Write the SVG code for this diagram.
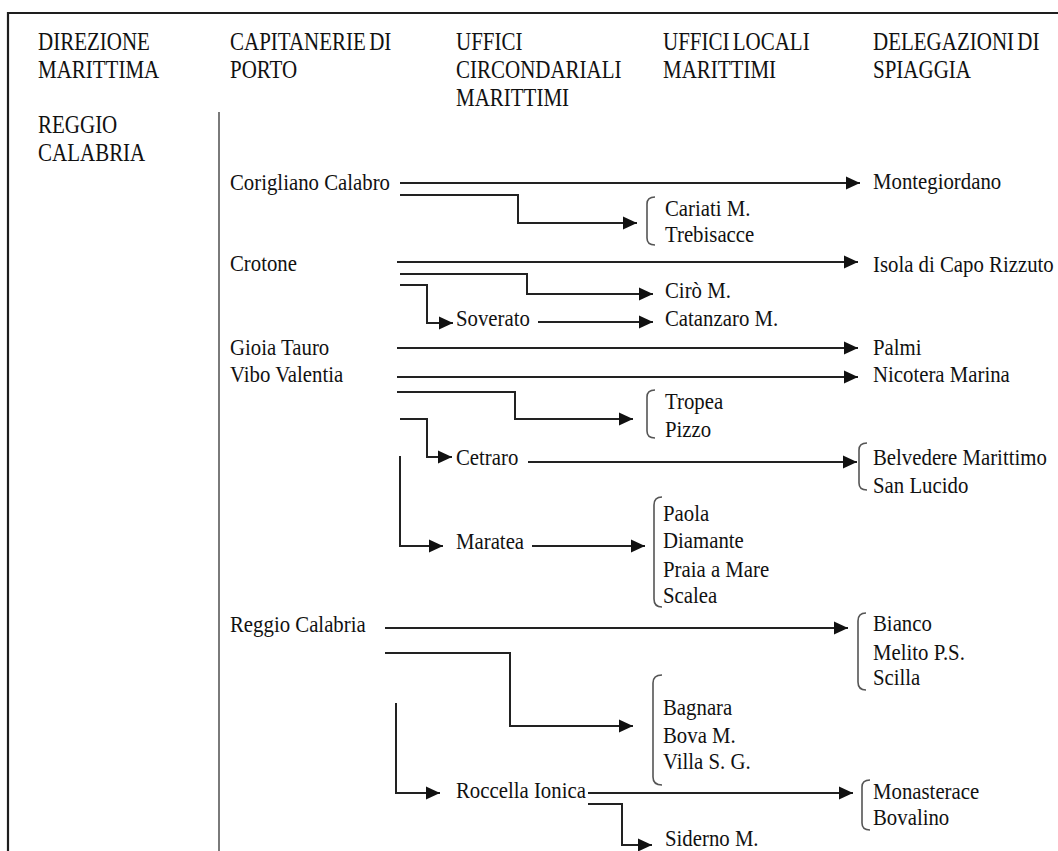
<svg xmlns="http://www.w3.org/2000/svg" width="1058" height="851" viewBox="0 0 1058 851">
<style>
  text { font-family: "Liberation Serif", "Times New Roman", serif; font-size: 20.8px; fill: #111; }
  .h { font-size: 21px; word-spacing: -2px; }
  .c { fill: none; stroke: #222; stroke-width: 2; }
  .br { fill: none; stroke: #555; stroke-width: 1.6; }
  .frame { fill: none; stroke: #1e1e1e; stroke-width: 2.2; }
  .axis { stroke: #7a7a7a; stroke-width: 2; }
</style>
<defs>
  <marker id="ah" markerUnits="userSpaceOnUse" markerWidth="15" markerHeight="15" refX="14" refY="7" orient="auto">
    <path d="M0,0.5 L14,7 L0,13.5 Z" fill="#111"/>
  </marker>
</defs>
<rect width="1058" height="851" fill="#fff"/>
<path class="frame" d="M8,851 V13 H1058"/>
<line class="axis" x1="219" y1="112" x2="219" y2="851"/>

<g id="headers">
  <g id="h-direzione"><text class="h" transform="translate(38 50) scale(1 1.18)">DIREZIONE</text><text class="h" transform="translate(38 78) scale(1 1.18)">MARITTIMA</text></g>
  <g id="h-capitanerie"><text class="h" transform="translate(230 50) scale(1 1.18)">CAPITANERIE DI</text><text class="h" transform="translate(230 78) scale(1 1.18)">PORTO</text></g>
  <g id="h-circondariali"><text class="h" transform="translate(456 50) scale(1 1.18)">UFFICI</text><text class="h" transform="translate(456 78) scale(1 1.18)">CIRCONDARIALI</text><text class="h" transform="translate(456 106) scale(1 1.18)">MARITTIMI</text></g>
  <g id="h-locali"><text class="h" transform="translate(663 50) scale(1 1.18)">UFFICI LOCALI</text><text class="h" transform="translate(663 78) scale(1 1.18)">MARITTIMI</text></g>
  <g id="h-delegazioni"><text class="h" transform="translate(873 50) scale(1 1.18)">DELEGAZIONI DI</text><text class="h" transform="translate(873 78) scale(1 1.18)">SPIAGGIA</text></g>
</g>

<g id="n-direzione-reggio"><text class="h" transform="translate(38 133) scale(1 1.18)">REGGIO</text><text class="h" transform="translate(38 161) scale(1 1.18)">CALABRIA</text></g>

<g id="n-corigliano"><text transform="translate(230 190) scale(1 1.15)">Corigliano Calabro</text></g>
<g id="n-crotone"><text transform="translate(230 271) scale(1 1.15)">Crotone</text></g>
<g id="n-gioia"><text transform="translate(230 355) scale(1 1.15)">Gioia Tauro</text></g>
<g id="n-vibo"><text transform="translate(230 382) scale(1 1.15)">Vibo Valentia</text></g>
<g id="n-reggio"><text transform="translate(230 632) scale(1 1.15)">Reggio Calabria</text></g>

<g id="n-soverato"><text transform="translate(456 326) scale(1 1.15)">Soverato</text></g>
<g id="n-cetraro"><text transform="translate(456 465) scale(1 1.15)">Cetraro</text></g>
<g id="n-maratea"><text transform="translate(456 549) scale(1 1.15)">Maratea</text></g>
<g id="n-roccella"><text transform="translate(456 798) scale(1 1.15)">Roccella Ionica</text></g>

<g id="n-cariati">
  <path class="br" d="M655,197 Q647,197 647,204 V238 Q647,245 655,245"/>
  <text transform="translate(665 216) scale(1 1.15)">Cariati M.</text>
  <text transform="translate(665 242) scale(1 1.15)">Trebisacce</text>
</g>
<g id="n-ciro"><text transform="translate(665 298) scale(1 1.15)">Cirò M.</text></g>
<g id="n-catanzaro"><text transform="translate(665 326) scale(1 1.15)">Catanzaro M.</text></g>
<g id="n-tropea">
  <path class="br" d="M655,390 Q647,390 647,397 V431 Q647,438 655,438"/>
  <text transform="translate(665 409) scale(1 1.15)">Tropea</text>
  <text transform="translate(665 437) scale(1 1.15)">Pizzo</text>
</g>
<g id="n-paola">
  <path class="br" d="M662,497 Q654,497 654,505 V599 Q654,607 662,607"/>
  <text transform="translate(663 521) scale(1 1.15)">Paola</text>
  <text transform="translate(663 548) scale(1 1.15)">Diamante</text>
  <text transform="translate(663 577) scale(1 1.15)">Praia a Mare</text>
  <text transform="translate(663 603) scale(1 1.15)">Scalea</text>
</g>
<g id="n-bagnara">
  <path class="br" d="M662,675 Q653,675 653,683 V777 Q653,785 662,785"/>
  <text transform="translate(663 715) scale(1 1.15)">Bagnara</text>
  <text transform="translate(663 743) scale(1 1.15)">Bova M.</text>
  <text transform="translate(663 769) scale(1 1.15)">Villa S. G.</text>
</g>
<g id="n-siderno"><text transform="translate(665 846) scale(1 1.15)">Siderno M.</text></g>

<g id="n-montegiordano"><text transform="translate(873 189) scale(1 1.15)">Montegiordano</text></g>
<g id="n-isola"><text transform="translate(873 272) scale(1 1.15)">Isola di Capo Rizzuto</text></g>
<g id="n-palmi"><text transform="translate(873 355) scale(1 1.15)">Palmi</text></g>
<g id="n-nicotera"><text transform="translate(873 382) scale(1 1.15)">Nicotera Marina</text></g>
<g id="n-belvedere">
  <path class="br" d="M867,443 Q859,443 859,450 V483 Q859,490 867,490"/>
  <text transform="translate(873 465) scale(1 1.15)">Belvedere Marittimo</text>
  <text transform="translate(873 493) scale(1 1.15)">San Lucido</text>
</g>
<g id="n-bianco">
  <path class="br" d="M866,613 Q858,613 858,621 V682 Q858,690 866,690"/>
  <text transform="translate(873 631) scale(1 1.15)">Bianco</text>
  <text transform="translate(873 660) scale(1 1.15)">Melito P.S.</text>
  <text transform="translate(873 685) scale(1 1.15)">Scilla</text>
</g>
<g id="n-monasterace">
  <path class="br" d="M870,780 Q862,780 862,787 V823 Q862,830 870,830"/>
  <text transform="translate(873 799) scale(1 1.15)">Monasterace</text>
  <text transform="translate(873 825) scale(1 1.15)">Bovalino</text>
</g>

<g id="connectors">
  <path class="c" marker-end="url(#ah)" d="M400,183 H860"/>
  <path class="c" marker-end="url(#ah)" d="M400,195 H518 V223 H637"/>
  <path class="c" marker-end="url(#ah)" d="M397,262 H858"/>
  <path class="c" marker-end="url(#ah)" d="M400,274 H527 V294 H653"/>
  <path class="c" marker-end="url(#ah)" d="M400,285 H427 V323 H453"/>
  <path class="c" marker-end="url(#ah)" d="M538,322 H653"/>
  <path class="c" marker-end="url(#ah)" d="M397,348 H858"/>
  <path class="c" marker-end="url(#ah)" d="M397,377 H858"/>
  <path class="c" marker-end="url(#ah)" d="M397,392 H515 V419 H633"/>
  <path class="c" marker-end="url(#ah)" d="M400,419 H427 V457 H452"/>
  <path class="c" marker-end="url(#ah)" d="M528,462 H857"/>
  <path class="c" marker-end="url(#ah)" d="M400,456 V546 H443"/>
  <path class="c" marker-end="url(#ah)" d="M532,546 H645"/>
  <path class="c" marker-end="url(#ah)" d="M385,628 H848"/>
  <path class="c" marker-end="url(#ah)" d="M385,653 H510 V726 H633"/>
  <path class="c" marker-end="url(#ah)" d="M396,703 V793 H440"/>
  <path class="c" marker-end="url(#ah)" d="M588,793 H853"/>
  <path class="c" marker-end="url(#ah)" d="M588,804 H622 V845 H652"/>
</g>
</svg>
